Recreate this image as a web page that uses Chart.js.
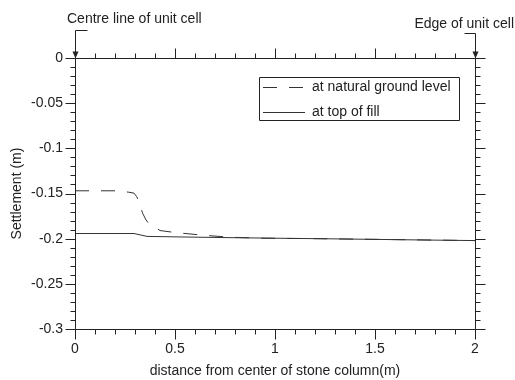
<!DOCTYPE html>
<html>
<head>
<meta charset="utf-8">
<script src="https://cdn.jsdelivr.net/npm/chart.js@4.4.1/dist/chart.umd.min.js"></script>
<style>
  html, body { margin: 0; padding: 0; background: #fff; }
  #chart { display: block; }
</style>
</head>
<body>
<canvas id="chart" width="515" height="380"></canvas>
<script>
// Data
const naturalX = [0, 0.1, 0.2, 0.267, 0.295, 0.308, 0.317, 0.338, 0.355, 0.367, 0.378, 0.425, 0.5, 0.642, 0.775, 0.94, 1.2, 1.44, 1.7, 2.0];
const naturalY = [-0.147, -0.147, -0.147, -0.1485, -0.1496, -0.1533, -0.1578, -0.1718, -0.1792, -0.1829, -0.184, -0.191, -0.1932, -0.1962, -0.1984, -0.1995, -0.2, -0.2006, -0.2013, -0.2021];
const fillX = [0, 0.1, 0.2, 0.295, 0.33, 0.36, 0.5, 0.75, 1.0, 1.25, 1.5, 1.75, 2.0];
const fillY = [-0.1943, -0.1943, -0.1943, -0.1943, -0.196, -0.1975, -0.198, -0.1988, -0.1995, -0.2001, -0.2008, -0.2015, -0.2021];

const xTicks = [0, 0.5, 1, 1.5, 2];
const yTicks = [0, -0.05, -0.1, -0.15, -0.2, -0.25, -0.3];
const xMinorStep = 0.1;
const yMinorStep = 0.01;

const seriesLabels = ['at natural ground level', 'at top of fill'];
const xTitle = 'distance from center of stone column(m)';
const yTitle = 'Settlement (m)';
const leftNote = 'Centre line of unit cell';
const rightNote = 'Edge of unit cell';

const FONT = '"Liberation Sans", Arial, Helvetica, sans-serif';
const INK = '#222';
const LINE = '#333';

function toPoints(xs, ys) {
  return xs.map((x, i) => ({ x: x, y: ys[i] }));
}

// axes box, minor ticks, arrows and legend
const framePlugin = {
  id: 'frame',
  afterDraw(chart) {
    const ctx = chart.ctx;
    const xs = chart.scales.x;
    const ys = chart.scales.y;
    const a = chart.chartArea;
    const L = Math.round(a.left) + 0.5;
    const R = Math.round(a.right) + 0.5;
    const T = Math.round(a.top) + 0.5;
    const B = Math.round(a.bottom) + 0.5;

    ctx.save();
    ctx.strokeStyle = INK;
    ctx.lineWidth = 1;
    ctx.beginPath();
    ctx.rect(L, T, R - L, B - T);

    // x ticks (top and bottom, outward)
    const nx = Math.round((xs.max - xs.min) / xMinorStep);
    for (let i = 0; i <= nx; i++) {
      const v = xs.min + i * xMinorStep;
      const px = Math.round(xs.getPixelForValue(v)) + 0.5;
      const major = xTicks.some(t => Math.abs(t - v) < 1e-6);
      const len = major ? 10 : 5;
      ctx.moveTo(px, B); ctx.lineTo(px, B + len);
      ctx.moveTo(px, T); ctx.lineTo(px, T - len);
    }
    // y ticks (left and right, outward)
    const ny = Math.round((ys.max - ys.min) / yMinorStep);
    for (let i = 0; i <= ny; i++) {
      const v = ys.min + i * yMinorStep;
      const py = Math.round(ys.getPixelForValue(v)) + 0.5;
      const major = yTicks.some(t => Math.abs(t - v) < 1e-6);
      const len = major ? 10 : 5;
      ctx.moveTo(L, py); ctx.lineTo(L - len, py);
      ctx.moveTo(R, py); ctx.lineTo(R + len, py);
    }
    ctx.stroke();

    // annotation arrows
    ctx.beginPath();
    ctx.moveTo(L + 12, 30.5); ctx.lineTo(L, 30.5); ctx.lineTo(L, T - 4);
    ctx.moveTo(R - 11, 33.5); ctx.lineTo(R, 33.5); ctx.lineTo(R, T - 4);
    ctx.stroke();
    ctx.fillStyle = INK;
    [L, R].forEach(px => {
      ctx.beginPath();
      ctx.moveTo(px - 3, T - 7);
      ctx.lineTo(px + 3, T - 7);
      ctx.lineTo(px, T);
      ctx.closePath();
      ctx.fill();
    });

    ctx.font = '14px ' + FONT;
    ctx.textBaseline = 'middle';
    ctx.textAlign = 'left';
    ctx.fillText(leftNote, 67, 19);
    ctx.textAlign = 'right';
    ctx.fillText(rightNote, 514, 24);

    // legend
    const bx = 259.5, by = 77.5, bw = 200, bh = 43;
    ctx.beginPath();
    ctx.rect(bx, by, bw, bh);
    ctx.stroke();
    ctx.strokeStyle = LINE;
    ctx.beginPath();
    ctx.setLineDash([14, 12]);
    ctx.moveTo(263, 87.5); ctx.lineTo(305, 87.5);
    ctx.stroke();
    ctx.setLineDash([]);
    ctx.beginPath();
    ctx.moveTo(263, 112.5); ctx.lineTo(305, 112.5);
    ctx.stroke();
    ctx.textAlign = 'left';
    ctx.fillStyle = INK;
    ctx.fillText(seriesLabels[0], 312, 87);
    ctx.fillText(seriesLabels[1], 312, 112);
    ctx.restore();
  }
};

new Chart(document.getElementById('chart'), {
  type: 'scatter',
  data: {
    datasets: [
      {
        label: seriesLabels[0],
        data: toPoints(naturalX, naturalY),
        showLine: true,
        borderColor: LINE,
        borderWidth: 1,
        borderDash: [14, 12],
        pointRadius: 0,
        tension: 0
      },
      {
        label: seriesLabels[1],
        data: toPoints(fillX, fillY),
        showLine: true,
        borderColor: LINE,
        borderWidth: 1,
        pointRadius: 0,
        tension: 0
      }
    ]
  },
  options: {
    responsive: false,
    devicePixelRatio: 1,
    animation: false,
    layout: { padding: { top: 58, right: 40, left: 0, bottom: 0 } },
    plugins: {
      legend: { display: false },
      tooltip: { enabled: false }
    },
    scales: {
      x: {
        type: 'linear',
        min: 0,
        max: 2,
        afterBuildTicks: s => { s.ticks = xTicks.map(v => ({ value: v })); },
        afterFit: s => { s.height = 51; },
        grid: { display: false, drawTicks: false },
        border: { display: false },
        ticks: {
          padding: 12,
          color: INK,
          font: { family: FONT, size: 14 },
          maxRotation: 0,
          callback: v => String(v)
        },
        title: {
          display: true,
          text: xTitle,
          color: INK,
          font: { family: FONT, size: 14 },
          padding: { top: 0, bottom: 0 }
        }
      },
      y: {
        type: 'linear',
        min: -0.3,
        max: 0,
        afterBuildTicks: s => { s.ticks = yTicks.map(v => ({ value: v })); },
        afterFit: s => { s.width = 75; },
        grid: { display: false, drawTicks: false },
        border: { display: false },
        ticks: {
          padding: 12,
          color: INK,
          font: { family: FONT, size: 14 },
          callback: v => String(+v.toFixed(2))
        },
        title: {
          display: true,
          text: yTitle,
          color: INK,
          font: { family: FONT, size: 14 },
          padding: { top: 9, bottom: 0 }
        }
      }
    }
  },
  plugins: [framePlugin]
});
</script>
</body>
</html>
